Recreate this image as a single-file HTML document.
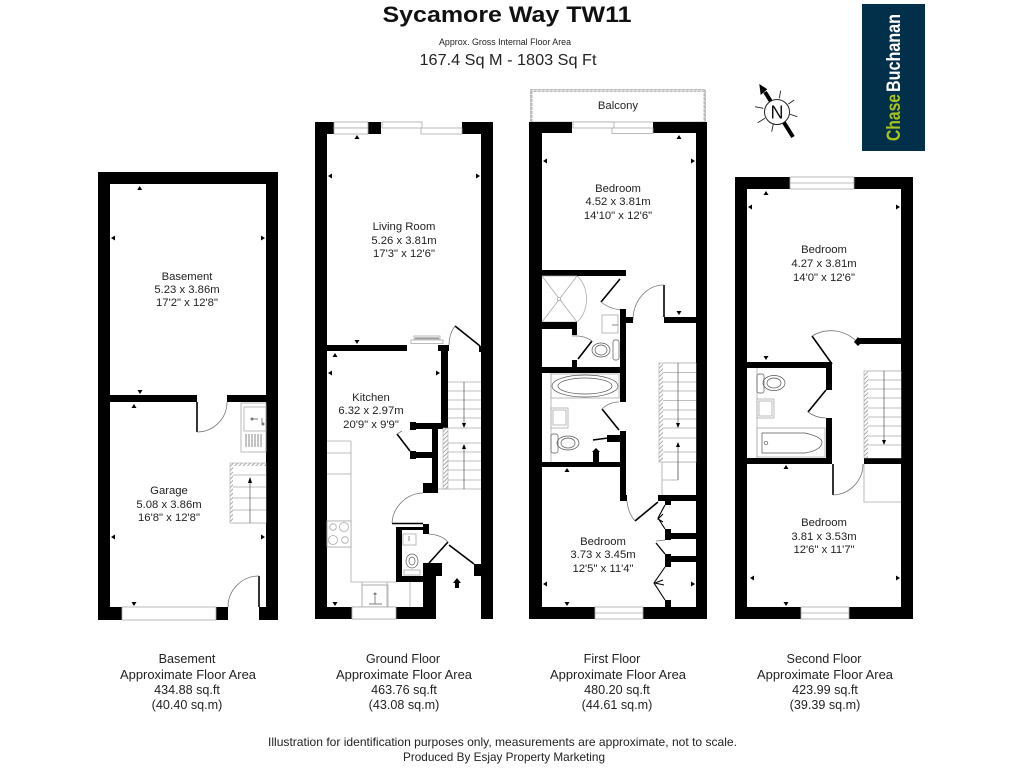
<!DOCTYPE html>
<html lang="en"><head><meta charset="utf-8"><title>Sycamore Way TW11</title>
<style>
html,body{margin:0;padding:0;background:#fff;width:1024px;height:768px;overflow:hidden}
svg{display:block;font-family:"Liberation Sans",sans-serif;filter:blur(.3px)}
.w{fill:#000;stroke:none}
.g{fill:none;stroke:#aaa;stroke-width:.8}
.f{fill:#fff;stroke:#aaa;stroke-width:.8}
.l{fill:none;stroke:#000;stroke-width:1.6}
.a{fill:none;stroke:#777;stroke-width:.8}
.s{fill:none;stroke:#555;stroke-width:.7}
.h{fill:url(#hatch);stroke:#aaa;stroke-width:.6}
.r{font-size:11.3px;fill:#222;text-anchor:middle}
.b{font-size:12.6px;fill:#222;text-anchor:middle}
</style></head><body>
<svg width="1024" height="768" viewBox="0 0 1024 768" xmlns="http://www.w3.org/2000/svg">
<defs><pattern id="hatch" width="3" height="3" patternUnits="userSpaceOnUse" patternTransform="rotate(45)"><rect width="3" height="3" fill="#fff"/><rect width="1" height="3" fill="#aaa"/></pattern></defs>
<rect width="1024" height="768" fill="#fff"/>

<!-- Header -->
<text x="507" y="22" font-size="22" font-weight="bold" text-anchor="middle" fill="#111" textLength="249" lengthAdjust="spacingAndGlyphs">Sycamore Way TW11</text>
<text x="505" y="45" font-size="9" text-anchor="middle" fill="#222" textLength="132" lengthAdjust="spacingAndGlyphs">Approx. Gross Internal Floor Area</text>
<text x="508" y="65" font-size="15.5" text-anchor="middle" fill="#222" textLength="177" lengthAdjust="spacingAndGlyphs">167.4 Sq M - 1803 Sq Ft</text>

<!-- Logo -->
<rect x="862" y="4" width="63" height="147" fill="#02304a"/>
<g transform="translate(900,141) rotate(-90)">
<text x="0" y="0" font-size="19.5" font-weight="bold" fill="#a8c41c" textLength="47" lengthAdjust="spacingAndGlyphs">Chase</text>
<text x="49" y="0" font-size="19.5" font-weight="bold" fill="#fff" textLength="78" lengthAdjust="spacingAndGlyphs">Buchanan</text>
</g>

<!-- Compass -->
<g>
<path d="M793 137L765 92" stroke="#000" stroke-width="4" fill="none"/>
<polygon points="759.300,84 767.300,89.300 760.700,95" fill="#000"/>
<path d="M780.700 90.700L779.300 98.300M794.300 100L788.300 104M797.300 116.700L789.300 114M771.700 131.700L773.300 124M757.700 122.700L765 118.300M755 106.700L763.300 108.300" stroke="#222" stroke-width=".9" fill="none"/>
<circle cx="777" cy="112" r="12.500" fill="#fff" stroke="#222" stroke-width="1"/>
<text x="777" y="118.500" font-size="18" text-anchor="middle" fill="#111">N</text>
</g>

<!-- ================= BASEMENT ================= -->
<path class="w" d="M98 172H278V620H259V607H266V184H110V607H122V620H98Z"/>
<rect class="w" x="216" y="607" width="12" height="13"/>
<rect class="w" x="110" y="395" width="87" height="7"/>
<rect class="w" x="227" y="395" width="39" height="7"/>
<rect class="f" x="122" y="607" width="94" height="13"/>
<path class="l" d="M197 402V432"/><path class="a" d="M197 432A30 30 0 0 0 227 402"/>
<path class="l" d="M259 607V576"/><path class="a" d="M259 576A31 31 0 0 0 228 607"/>
<!-- sink -->
<rect class="g" x="241" y="403" width="25" height="49"/>
<rect class="g" x="244" y="407" width="22" height="24"/>
<path class="s" d="M251 419h7M262 418v6M246 434v13M249 434v13M252 434v13M255 434v13M258 434v13M261 434v13"/>
<circle cx="252" cy="419" r="1.5" fill="#777"/><circle cx="263" cy="424" r="1.5" fill="#777"/>
<!-- stairs -->
<rect class="h" x="230" y="463" width="36" height="60"/>
<rect x="233" y="466" width="33" height="57" fill="#fff"/>
<path class="g" d="M233 475H266M233 487H266M233 498H266M233 510H266M233 523H266"/>
<path class="s" d="M250 523V478" stroke="#222"/><polygon points="250,477 248,483 252,483" fill="#000"/>

<!-- ================= GROUND ================= -->
<path class="w" d="M315 122H334V134H327V607H352V619H315Z"/>
<path class="w" d="M462 122H493V619H481V134H462Z"/>
<rect class="w" x="368" y="122" width="13" height="12"/>
<rect class="f" x="334" y="122" width="34" height="6"/><rect class="f" x="334" y="128" width="34" height="6"/>
<rect class="f" x="382" y="122" width="40" height="6"/><rect class="f" x="421" y="128" width="41" height="6"/>
<rect class="w" x="327" y="345" width="80" height="6"/>
<rect class="w" x="438" y="345" width="11" height="6"/>
<rect class="w" x="441" y="345" width="7" height="84"/>
<rect class="w" x="410" y="423" width="38" height="6"/>
<rect class="w" x="410" y="422" width="6" height="8"/>
<rect class="w" x="432" y="429" width="6" height="64"/>
<rect class="w" x="423" y="483" width="15" height="10"/>
<rect class="w" x="410" y="452" width="28" height="6"/>
<rect class="w" x="410" y="451" width="6" height="8"/>
<rect class="w" x="479" y="346" width="2" height="6"/>
<rect class="f" x="411" y="340" width="32" height="3.5"/><rect class="f" x="414" y="336" width="26" height="3"/>
<path class="s" d="M415 338h24"/>
<path class="l" d="M455 326L480 346"/><path class="a" d="M455 326Q449 334 449 345"/>
<path class="l" d="M397 434L410 451"/><path class="a" d="M397 434L402 431"/>
<!-- kitchen -->
<path class="g" d="M327 441H351V582H396M327 453H351M327 474H351M327 521H351M327 547H351M362 582V607M387 582V607M410 582V607M362 585H387"/>
<rect class="f" x="327" y="521" width="24" height="26"/>
<circle class="g" cx="333" cy="527" r="3.3"/><circle class="g" cx="344" cy="527" r="4.5"/><circle class="g" cx="333" cy="540" r="4.5"/><circle class="g" cx="345" cy="540" r="3.3"/>
<rect class="g" x="362" y="585" width="26" height="22"/>
<circle cx="375" cy="594" r="1.5" fill="#888"/><path class="s" d="M375 596V604M369 604H382"/>
<rect class="f" x="352" y="607" width="44" height="12"/><path class="g" d="M352 613H396"/>
<!-- wc -->
<path class="l" d="M392 523.5H423"/>
<path class="a" d="M392 523A32 32 0 0 1 423 493"/>
<rect class="w" x="396" y="527" width="6" height="55"/>
<rect class="w" x="396" y="527" width="27" height="3"/>
<rect class="w" x="423" y="524" width="6" height="10"/>
<rect class="w" x="396" y="576" width="40" height="6"/>
<rect class="w" x="423" y="563" width="19" height="13"/>
<rect class="w" x="423" y="563" width="13" height="56"/>
<rect class="w" x="396" y="607" width="40" height="12"/>
<rect class="f" x="352" y="607" width="44" height="12"/>
<rect class="w" x="474" y="564" width="7" height="12"/>
<path class="l" d="M429 563L448 542M474 564L449 545"/>
<path class="a" d="M429 534Q442 535 448 542"/>
<rect class="g" x="403" y="534" width="13" height="11"/><path class="s" d="M409 536v5"/>
<ellipse class="s" cx="412" cy="561" rx="6" ry="7"/><ellipse class="s" cx="412" cy="561" rx="3" ry="4"/>
<rect class="g" x="404" y="570" width="16" height="5"/>
<polygon points="457,578 461,583 459,583 459,588 455,588 455,583 453,583" fill="#000"/>
<!-- ground stairs -->
<path class="g" d="M448 382H481M448 391H481M448 400H481M448 409H481M448 418H481M448 428H481M448 443H481M448 452H481M448 461H481M448 470H481M448 480H481M448 489H481"/>
<rect class="h" x="443" y="428" width="5" height="61"/><path class="g" d="M438 489H448"/>
<path class="s" d="M464 382V426M464 489V447" stroke="#222"/>
<polygon points="464,428 462,423 466,423" fill="#000"/><polygon points="464,444 462,449 466,449" fill="#000"/>

<!-- ================= FIRST ================= -->
<rect class="f" x="531" y="90" width="174" height="32"/>
<path d="M530.5 122V89.5H705.5V122M532 122V91.5H704V122" fill="none" stroke="#bbb" stroke-width="1" stroke-dasharray="3 1"/>
<path class="w" d="M529 122H572V133H542V607H595V619H529Z"/>
<path class="w" d="M653 122H707V619H643V607H696V133H653Z"/>
<rect class="f" x="573" y="122" width="41" height="6"/><rect class="f" x="612" y="128" width="41" height="5.5"/>
<rect class="f" x="595" y="607" width="48" height="12"/><path class="g" d="M595 613H643"/>
<rect class="w" x="542" y="270" width="84" height="6"/>
<path class="l" d="M620 279L601 302"/><path class="a" d="M601 302Q608 308 620 310"/>
<rect class="w" x="664" y="317" width="32" height="6"/>
<path class="l" d="M664 317V285"/><path class="a" d="M664 285A31 35 0 0 0 633 320"/>
<rect class="w" x="620" y="309" width="6" height="93"/>
<rect class="w" x="620" y="317" width="13" height="6"/>
<rect class="w" x="620" y="431" width="6" height="70"/>
<rect class="w" x="620" y="495" width="7" height="6"/>
<!-- shower -->
<path class="g" d="M542 276H577M542 322H577M542 276L577 322M577 276L542 322"/>
<path class="g" d="M577 276A20 27 0 0 1 577 322" stroke-width="1.400"/>
<circle class="f" cx="559" cy="299" r="1.6"/>
<rect class="w" x="542" y="322" width="35" height="7"/><rect class="w" x="572" y="329" width="5" height="6"/>
<path class="l" d="M592 341L578 359"/><path class="a" d="M572 336Q584 335 592 341"/>
<rect class="w" x="572" y="360" width="5" height="7"/>
<rect class="w" x="542" y="367" width="78" height="6"/>
<rect class="g" x="602" y="315" width="16" height="18"/><path class="s" d="M612 325h6"/>
<ellipse class="s" cx="601" cy="350" rx="9" ry="7"/><ellipse class="s" cx="601" cy="350" rx="6" ry="5"/>
<rect class="s" x="613" y="340" width="6" height="20" rx="2"/>
<rect class="g" x="551" y="374" width="68" height="24"/>
<ellipse class="s" cx="585" cy="386" rx="33" ry="11"/><ellipse class="s" cx="585" cy="386" rx="27" ry="8"/>
<path class="g" d="M551 373V462"/>
<rect class="g" x="551" y="408" width="17" height="20"/><rect class="g" x="553" y="410" width="13" height="15"/>
<ellipse class="s" cx="568" cy="443" rx="11" ry="7"/><ellipse class="s" cx="568" cy="443" rx="7" ry="5"/><rect class="s" x="551" y="434" width="7" height="19" rx="2"/>
<path class="l" d="M619 430L602 409"/><path class="a" d="M602 409Q609 402 619 402"/>
<rect class="w" x="607" y="435" width="13" height="7"/>
<path class="l" d="M593 440L608 438"/>
<rect class="w" x="593" y="451" width="6" height="12"/><polygon points="596,448 600,452 592,452" fill="#000"/>
<rect class="w" x="542" y="462" width="78" height="5"/>
<!-- first stairs -->
<rect class="h" x="659" y="363" width="37" height="99"/>
<rect x="663" y="363" width="33" height="99" fill="#fff"/>
<path class="g" d="M663 363H696M663 372.500H696M663 382H696M663 391H696M663 400.500H696M663 410H696M663 419H696M663 428H696M663 438H696M663 452H696M663 462H696M662 462V495M662 480H678M678 462V480"/>
<path class="s" d="M678 363V426M678 480V444" stroke="#222"/>
<polygon points="678,428 676,423 680,423" fill="#000"/><polygon points="678,442 676,447 680,447" fill="#000"/>
<!-- cupboards -->
<rect class="w" x="658" y="495" width="38" height="6"/>
<rect class="w" x="665" y="501" width="6" height="4"/>
<rect class="w" x="665" y="529" width="6" height="11"/>
<rect class="w" x="665" y="533" width="31" height="6"/>
<rect class="w" x="665" y="554" width="6" height="13"/>
<rect class="w" x="665" y="556" width="31" height="6"/>
<rect class="w" x="665" y="600" width="6" height="7"/>
<path class="l" d="M658 502L635 521"/><path class="a" d="M627 501Q628 513 635 521"/>
<path d="M665 505L658 518M658 518L665 529M663 514L658 519L663 522" stroke="#000" stroke-width="1.100" fill="none"/>
<path d="M656 543L665 554" stroke="#000" stroke-width="1.300" fill="none"/><path class="a" d="M665 540L656 541"/>
<path d="M665 567L654 583L665 600M663 580L655 583L664 585" stroke="#000" stroke-width="1.100" fill="none"/>

<!-- ================= SECOND ================= -->
<path class="w" d="M735 177H790V189H747V607H801V619H735Z"/>
<path class="w" d="M854 177H913V619H849V607H901V189H854Z"/>
<rect class="f" x="790" y="177" width="64" height="12"/><path class="g" d="M790 183H854"/>
<rect class="f" x="801" y="607" width="48" height="12"/><path class="g" d="M801 613H849"/>
<rect class="w" x="747" y="362" width="85" height="6"/>
<rect class="w" x="826" y="368" width="6" height="22"/>
<path class="l" d="M812 336L832 364"/><path class="a" d="M812 336A36 36 0 0 1 857 342"/>
<rect class="w" x="858" y="338" width="43" height="6"/>
<polygon points="858,337 862,342 858,346 854,342" fill="#000"/>
<path class="l" d="M826 390L808 412"/><path class="a" d="M808 412Q816 418 826 418"/>
<rect class="w" x="826" y="418" width="6" height="46"/>
<rect class="w" x="747" y="458" width="85" height="6"/>
<rect class="w" x="864" y="458" width="37" height="6"/>
<path class="l" d="M833 464V495"/><path class="a" d="M833 495A31 31 0 0 0 863 464"/>
<path class="g" d="M864 464V502H901"/>
<!-- stairs second -->
<rect class="h" x="864" y="371" width="37" height="87"/>
<rect x="868" y="371" width="33" height="87" fill="#fff"/>
<path class="g" d="M868 371H901M868 380H901M868 389H901M868 398H901M868 408H901M868 417H901M868 426H901M868 436H901M868 445H901"/>
<path class="s" d="M884 371V441" stroke="#222"/><polygon points="884,445 882,440 886,440" fill="#000"/>
<!-- bath second -->
<path class="g" d="M757 368V458"/>
<ellipse class="s" cx="774" cy="383" rx="11" ry="7.500"/><ellipse class="s" cx="774" cy="383" rx="7" ry="5"/><rect class="s" x="757" y="374" width="7" height="19" rx="2"/>
<rect class="g" x="757" y="399" width="17" height="19"/><rect class="g" x="759" y="401" width="13" height="15"/>
<rect class="g" x="757" y="428" width="68" height="29"/>
<path class="s" d="M762 433H805Q822 437 822 442Q822 450 805 453H762Z"/><circle class="s" cx="766" cy="443" r="1.8"/>

<!-- Dimension ticks -->
<path fill="#000" d="M139.700 186l2.500 4h-5zM134 404l2.500 4h-5zM357 135l2.500 4h-5zM335 353l2.500 4h-5zM679 135l2.500 4h-5zM567 468l2.500 4h-5zM766 191l2.500 4h-5zM786 465l2.500 4h-5z"/>
<path fill="#000" d="M140 394l2.500-4h-5zM134 606l2.500-4h-5zM357 344l2.500-4h-5zM335 606l2.500-4h-5zM679 315l2.500-4h-5zM567 606l2.500-4h-5zM766 360l2.500-4h-5zM786 606l2.500-4h-5z"/>
<path fill="#000" d="M111 238l4 2.500v-5zM111 537l4 2.500v-5zM328 176l4 2.500v-5zM328 373l4 2.500v-5zM543 161l4 2.500v-5zM543 584l4 2.500v-5zM748 207l4 2.500v-5zM750 578l4 2.500v-5z"/>
<path fill="#000" d="M265 238l-4 2.500v-5zM265 537l-4 2.500v-5zM480 176l-4 2.500v-5zM440 373l-4 2.500v-5zM695 161l-4 2.500v-5zM695 584l-4 2.500v-5zM900 207l-4 2.500v-5zM900 578l-4 2.500v-5z"/>

<!-- Room labels -->
<text class="r" x="187" y="280">Basement</text><text class="r" x="187" y="293">5.23 x 3.86m</text><text class="r" x="187" y="306">17'2" x 12'8"</text>
<text class="r" x="169" y="494">Garage</text><text class="r" x="169" y="508">5.08 x 3.86m</text><text class="r" x="169" y="521">16'8" x 12'8"</text>
<text class="r" x="404" y="230">Living Room</text><text class="r" x="404" y="244">5.26 x 3.81m</text><text class="r" x="404" y="257">17'3" x 12'6"</text>
<text class="r" x="371" y="401">Kitchen</text><text class="r" x="371" y="414">6.32 x 2.97m</text><text class="r" x="371" y="428">20'9" x 9'9"</text>
<text class="r" x="618" y="109">Balcony</text>
<text class="r" x="618" y="192">Bedroom</text><text class="r" x="618" y="205">4.52 x 3.81m</text><text class="r" x="618" y="219">14'10" x 12'6"</text>
<text class="r" x="603" y="545">Bedroom</text><text class="r" x="603" y="558">3.73 x 3.45m</text><text class="r" x="603" y="572">12'5" x 11'4"</text>
<text class="r" x="824" y="253">Bedroom</text><text class="r" x="824" y="267">4.27 x 3.81m</text><text class="r" x="824" y="281">14'0" x 12'6"</text>
<text class="r" x="824" y="526">Bedroom</text><text class="r" x="824" y="540">3.81 x 3.53m</text><text class="r" x="824" y="553">12'6" x 11'7"</text>

<!-- Bottom labels -->
<text class="b" x="187" y="663">Basement</text><text class="b" x="188" y="679" textLength="136" lengthAdjust="spacingAndGlyphs">Approximate Floor Area</text><text class="b" x="187" y="694">434.88 sq.ft</text><text class="b" x="187" y="709">(40.40 sq.m)</text>
<text class="b" x="403" y="663">Ground Floor</text><text class="b" x="404" y="679" textLength="136" lengthAdjust="spacingAndGlyphs">Approximate Floor Area</text><text class="b" x="404" y="694">463.76 sq.ft</text><text class="b" x="404" y="709">(43.08 sq.m)</text>
<text class="b" x="612" y="663">First Floor</text><text class="b" x="618" y="679" textLength="136" lengthAdjust="spacingAndGlyphs">Approximate Floor Area</text><text class="b" x="617" y="694">480.20 sq.ft</text><text class="b" x="617" y="709">(44.61 sq.m)</text>
<text class="b" x="824" y="663">Second Floor</text><text class="b" x="825" y="679" textLength="136" lengthAdjust="spacingAndGlyphs">Approximate Floor Area</text><text class="b" x="825" y="694">423.99 sq.ft</text><text class="b" x="825" y="709">(39.39 sq.m)</text>

<!-- Footer -->
<text x="502.500" y="746" font-size="12" text-anchor="middle" fill="#222" textLength="469" lengthAdjust="spacingAndGlyphs">Illustration for identification purposes only, measurements are approximate, not to scale.</text>
<text x="504" y="761" font-size="12" text-anchor="middle" fill="#222" textLength="202" lengthAdjust="spacingAndGlyphs">Produced By Esjay Property Marketing</text>
</svg>
</body></html>
